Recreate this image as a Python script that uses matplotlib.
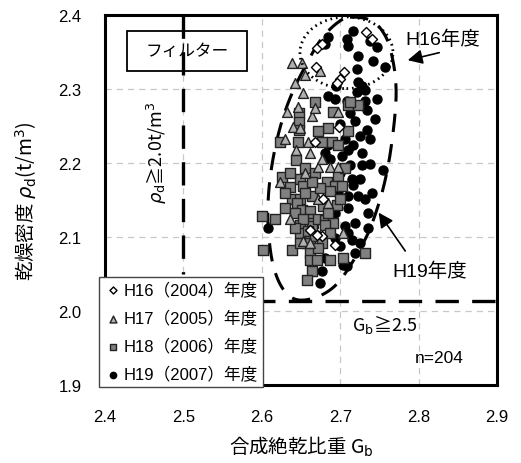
import numpy as np
import matplotlib
matplotlib.use('Agg')
import matplotlib.pyplot as plt
from matplotlib.patches import Rectangle, Ellipse
from matplotlib.ticker import FormatStrFormatter

plt.rcParams['font.family'] = ['Liberation Sans', 'Noto Sans CJK JP', 'DejaVu Sans']
JP = 'Noto Sans CJK JP'

# ---- data (G_b, rho_d) ----
h16_x = [2.733, 2.741, 2.670, 2.677, 2.669, 2.705, 2.700, 2.696, 2.698, 2.668, 2.677, 2.693, 2.670, 2.678, 2.661]
h16_y = [2.377, 2.368, 2.356, 2.361, 2.330, 2.323, 2.314, 2.308, 2.249, 2.229, 2.101, 2.089, 2.103, 2.152, 2.109]

h17_x = [2.639, 2.651, 2.655, 2.674, 2.642, 2.653, 2.632, 2.664, 2.640, 2.697, 2.659, 2.661, 2.623, 2.636,
         2.653, 2.672, 2.687, 2.697, 2.649, 2.644, 2.668, 2.655, 2.672, 2.661, 2.677, 2.630, 2.646, 2.684, 2.704]
h17_y = [2.335, 2.335, 2.319, 2.325, 2.308, 2.294, 2.269, 2.263, 2.249, 2.269, 2.229, 2.213, 2.175, 2.125,
         2.094, 2.195, 2.195, 2.195, 2.247, 2.217, 2.274, 2.186, 2.152, 2.092, 2.206, 2.233, 2.276, 2.146, 2.105]

h18_x = [2.668, 2.691, 2.710, 2.723, 2.647, 2.647, 2.647, 2.684, 2.710, 2.672, 2.646, 2.677, 2.690, 2.697,
         2.623, 2.7125, 2.644, 2.626, 2.649, 2.653, 2.636, 2.639, 2.649, 2.664, 2.645, 2.630, 2.651, 2.661,
         2.600, 2.617, 2.661, 2.665, 2.649, 2.664, 2.649, 2.659, 2.661, 2.658, 2.6015, 2.639, 2.661, 2.661,
         2.664, 2.658, 2.697, 2.683, 2.693, 2.702, 2.687, 2.696, 2.678, 2.672, 2.681, 2.691, 2.681, 2.687,
         2.670, 2.687, 2.704, 2.732, 2.655, 2.668, 2.674, 2.655, 2.642, 2.668, 2.677, 2.653, 2.636, 2.706,
         2.700, 2.672, 2.649, 2.630, 2.642, 2.684, 2.664]
h18_y = [2.283, 2.269, 2.279, 2.279, 2.268, 2.255, 2.244, 2.247, 2.243, 2.243, 2.229, 2.229, 2.229, 2.224,
         2.229, 2.283, 2.204, 2.181, 2.178, 2.169, 2.167, 2.152, 2.152, 2.155, 2.146, 2.139, 2.136, 2.135,
         2.128, 2.125, 2.125, 2.119, 2.116, 2.115, 2.105, 2.108, 2.094, 2.092, 2.082, 2.082, 2.078, 2.069,
         2.054, 2.042, 2.183, 2.174, 2.169, 2.169, 2.162, 2.143, 2.142, 2.125, 2.123, 2.119, 2.116, 2.105,
         2.069, 2.069, 2.072, 2.078, 2.193, 2.186, 2.166, 2.159, 2.132, 2.101, 2.092, 2.125, 2.186, 2.193,
         2.152, 2.085, 2.092, 2.159, 2.112, 2.132, 2.175]

h19_x = [2.716, 2.709, 2.710, 2.684, 2.681, 2.738, 2.747, 2.723, 2.742, 2.721, 2.757, 2.723, 2.728, 2.721,
         2.732, 2.684, 2.693, 2.709, 2.732, 2.734, 2.7125, 2.719, 2.734, 2.725, 2.738, 2.716, 2.710, 2.684,
         2.681, 2.747, 2.695, 2.687, 2.7125, 2.728, 2.716, 2.710, 2.723, 2.710, 2.735, 2.710, 2.715, 2.719,
         2.709, 2.677, 2.681, 2.755, 2.704, 2.700, 2.608, 2.700, 2.725, 2.732, 2.741, 2.735, 2.719, 2.706,
         2.693, 2.725, 2.700, 2.706, 2.728, 2.738, 2.693, 2.702, 2.674, 2.715, 2.744, 2.697]
h19_y = [2.378, 2.368, 2.358, 2.370, 2.361, 2.365, 2.357, 2.345, 2.338, 2.327, 2.330, 2.310, 2.304, 2.296,
         2.298, 2.291, 2.287, 2.284, 2.284, 2.271, 2.267, 2.257, 2.244, 2.236, 2.233, 2.224, 2.217, 2.224,
         2.213, 2.287, 2.304, 2.206, 2.197, 2.197, 2.170, 2.155, 2.156, 2.139, 2.112, 2.105, 2.096, 2.078,
         2.061, 2.054, 2.072, 2.190, 2.062, 2.088, 2.112, 2.186, 2.179, 2.152, 2.159, 2.132, 2.119, 2.115,
         2.099, 2.092, 2.253, 2.233, 2.213, 2.199, 2.132, 2.209, 2.038, 2.179, 2.260, 2.159]

labels = ['H16（2004）年度', 'H17（2005）年度', 'H18（2006）年度', 'H19（2007）年度']

# hand-drawn H19 region outline (closed)
loop_x = [2.7125, 2.7406, 2.7584, 2.7673, 2.7712, 2.770, 2.7648, 2.7584, 2.7495, 2.7355, 2.715, 2.6934,
          2.6679, 2.6423, 2.6245, 2.613, 2.6079, 2.6092, 2.6156, 2.6258, 2.6385, 2.6551, 2.6742, 2.6946]
loop_y = [2.397, 2.392, 2.370, 2.338, 2.303, 2.267, 2.220, 2.182, 2.146, 2.105, 2.065, 2.034,
          2.018, 2.016, 2.034, 2.069, 2.119, 2.166, 2.213, 2.257, 2.294, 2.330, 2.365, 2.388]


def smooth_closed(xs, ys, n=20):
    P = np.column_stack([xs, ys])
    m = len(P)
    t = np.linspace(0, 1, n, endpoint=False)[:, None]
    out = []
    for i in range(m):
        p0, p1, p2, p3 = P[i - 1], P[i], P[(i + 1) % m], P[(i + 2) % m]
        out.append(0.5 * (2 * p1 + (-p0 + p2) * t + (2 * p0 - 5 * p1 + 4 * p2 - p3) * t ** 2
                          + (-p0 + 3 * p1 - 3 * p2 + p3) * t ** 3))
    out = np.vstack(out + [P[:1]])
    return out[:, 0], out[:, 1]


fig = plt.figure(figsize=(5.21, 4.64), dpi=100)
ax = fig.add_axes([105 / 521, 1 - 386 / 464, 392 / 521, 370 / 464])
ax.set_xlim(2.4, 2.9)
ax.set_ylim(1.9, 2.4)
ax.set_xticks(np.arange(2.4, 2.91, 0.1))
ax.set_yticks(np.arange(1.9, 2.41, 0.1))
ax.xaxis.set_major_formatter(FormatStrFormatter('%.1f'))
ax.yaxis.set_major_formatter(FormatStrFormatter('%.1f'))
ax.grid(True, color='#c8c8c8', linestyle=(0, (5, 4)), linewidth=0.9)
ax.set_axisbelow(True)
ax.tick_params(length=0, pad=17, labelsize=12)
for s in ax.spines.values():
    s.set_linewidth(2.2)

# reference lines
ax.plot([2.5, 2.5], [2.4, 2.05], color='k', lw=2.4, dashes=(7, 4), zorder=2)
ax.plot([2.4, 2.912], [2.013, 2.013], color='k', lw=2.4, dashes=(7, 4), zorder=2, clip_on=False)

lx, ly = smooth_closed(loop_x, loop_y)
ax.plot(lx, ly, color='k', lw=2.2, dashes=(6, 4), zorder=2)
ax.add_patch(Ellipse((2.708, 2.349), 0.1186, 0.0969, fill=False, ec='k', lw=2.0,
                     linestyle=(0, (0.6, 1.4)), zorder=5))

# scatter series
ms = 42
s19 = ax.scatter(h19_x, h19_y, s=ms, marker='o', c='k', zorder=3, label=labels[3])
s18 = ax.scatter(h18_x, h18_y, s=ms, marker='s', c='#808080', edgecolors='#222222', linewidths=1.0, zorder=4, label=labels[2])
s17 = ax.scatter(h17_x, h17_y, s=50, marker='^', c='#b0b0b0', edgecolors='#222222', linewidths=1.0, zorder=4.5, label=labels[1])
s16 = ax.scatter(h16_x, h16_y, s=26, marker='D', c='white', edgecolors='k', linewidths=1.0, zorder=6, label=labels[0])

# annotations
ax.add_patch(Rectangle((2.428, 2.3246), 0.153, 0.0539, fill=False, ec='k', lw=1.3, zorder=6))
ax.text(2.5046, 2.3515, 'フィルター', family=JP, fontsize=12, ha='center', va='center', zorder=7)

ax.text(2.466, 2.215, r'$\rho_{\rm d}$≧2.0t/m$^3$', family=JP, fontsize=13, rotation=90,
        ha='center', va='center')
ax.text(2.757, 1.983, r'G$_{\rm b}$≧2.5', family=JP, fontsize=13, ha='center', va='center')
ax.text(2.826, 1.937, 'n=204', fontsize=12.5, ha='center', va='center')

ax.annotate('', xy=(2.7827, 2.338), xytext=(2.8298, 2.350),
            arrowprops=dict(arrowstyle='-|>', color='k', lw=1.2, mutation_scale=22))
ax.text(2.831, 2.3677, 'H16年度', fontsize=14, ha='center', va='center')
ax.annotate('', xy=(2.747, 2.136), xytext=(2.785, 2.078),
            arrowprops=dict(arrowstyle='-|>', color='k', lw=1.2, mutation_scale=22))
ax.text(2.8145, 2.054, 'H19年度', fontsize=14, ha='center', va='center')

ax.set_xlabel(r'合成絶乾比重 G$_{\rm b}$', family=JP, fontsize=14, labelpad=7)
ax.set_ylabel(r'乾燥密度 $\rho_{\rm d}$(t/m$^3$)', family=JP, fontsize=14, labelpad=14)

leg = ax.legend(handles=[s16, s17, s18, s19], labels=labels, loc='lower left',
                bbox_to_anchor=(99 / 521, 1 - 388 / 464), bbox_transform=fig.transFigure,
                frameon=True, fancybox=False, edgecolor='#444444', framealpha=1,
                borderpad=0.3, labelspacing=0.72, handletextpad=0.1, handlelength=1.1,
                fontsize=12, borderaxespad=0, markerscale=0.7)
leg.set_zorder(10)
leg.get_frame().set_linewidth(1.0)

fig.savefig('out.png', dpi=100)
